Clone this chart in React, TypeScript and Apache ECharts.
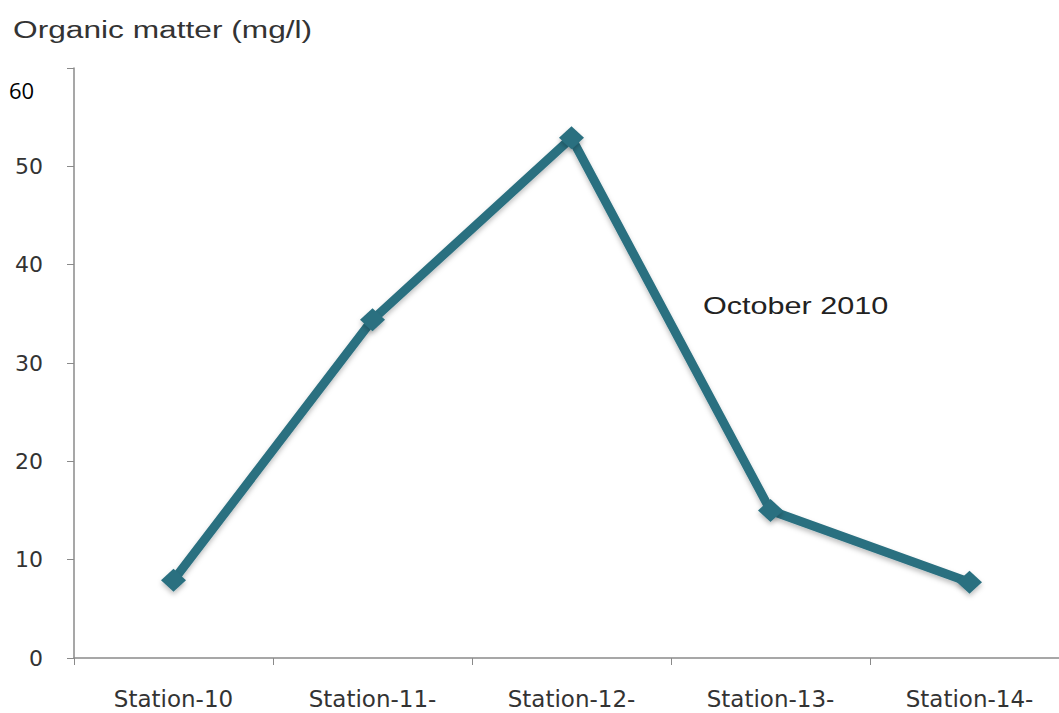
import React, { useEffect, useRef } from "react";
import * as echarts from "echarts";

const stations = ["Station-10", "Station-11-", "Station-12-", "Station-13-", "Station-14-"];
const organicMatter = [7.9, 34.4, 52.9, 15.0, 7.7];
const yTicks = { min: 0, max: 60, interval: 10 };

const LINE_COLOR = "#2b7080";
const ARIAL = '"Liberation Sans", Arial, sans-serif';

export default function App() {
  const ref = useRef<HTMLDivElement>(null);

  useEffect(() => {
    if (!ref.current) return;
    const chart = echarts.init(ref.current, null, { renderer: "svg" });
    chart.setOption({
      animation: false,
      backgroundColor: "#ffffff",
      grid: { left: 74, right: 0, top: 68, bottom: 55, containLabel: false },
      xAxis: {
        type: "category",
        data: stations,
        boundaryGap: true,
        axisLine: { lineStyle: { color: "#8a8a8a", width: 1.5 } },
        axisTick: { show: true, length: 7, lineStyle: { color: "#8a8a8a" } },
        axisLabel: {
          color: "#333",
          fontFamily: "DejaVu Sans",
          fontSize: 23,
          lineHeight: 22,
          margin: 30,
        },
      },
      yAxis: {
        type: "value",
        min: yTicks.min,
        max: yTicks.max,
        interval: yTicks.interval,
        splitLine: { show: false },
        axisLine: { show: true, lineStyle: { color: "#8a8a8a", width: 1.5 } },
        axisTick: { show: true, length: 7, lineStyle: { color: "#8a8a8a" } },
        axisLabel: {
          color: "#333",
          fontFamily: "DejaVu Sans",
          fontSize: 22,
          margin: 31,
          formatter: (v: number) => (v === yTicks.max ? "" : String(v)),
        },
      },
      graphic: [
        {
          type: "text",
          x: 13,
          y: 30,
          scaleX: 1.32,
          style: {
            text: "Organic matter (mg/l)",
            font: `24px ${ARIAL}`,
            fill: "#333",
            verticalAlign: "middle",
          },
        },
        {
          type: "text",
          x: 9,
          y: 90,
          style: {
            text: String(yTicks.max),
            font: '22px "Open Sans", sans-serif',
            fill: "#000",
            verticalAlign: "middle",
          },
        },
        {
          type: "text",
          x: 703,
          y: 306,
          scaleX: 1.33,
          style: {
            text: "October 2010",
            font: `23px ${ARIAL}`,
            fill: "#222",
            verticalAlign: "middle",
          },
        },
      ],
      series: [
        {
          type: "line",
          data: organicMatter,
          symbol: "diamond",
          symbolSize: [25, 23],
          showSymbol: true,
          itemStyle: {
            color: LINE_COLOR,
            shadowColor: "rgba(0,0,0,0.25)",
            shadowBlur: 5,
            shadowOffsetY: 3,
          },
          lineStyle: {
            color: LINE_COLOR,
            width: 9,
            shadowColor: "rgba(0,0,0,0.25)",
            shadowBlur: 5,
            shadowOffsetY: 3,
          },
        },
      ],
    });
    return () => chart.dispose();
  }, []);

  // The plot runs a little past the right edge of the visible frame,
  // so the chart is drawn wider than its clipping box.
  return (
    <div
      style={{
        position: "fixed",
        left: 0,
        top: 0,
        width: 1059,
        height: 713,
        overflow: "hidden",
        background: "#fff",
      }}
    >
      <div ref={ref} style={{ width: 1069, height: 713 }} />
    </div>
  );
}
